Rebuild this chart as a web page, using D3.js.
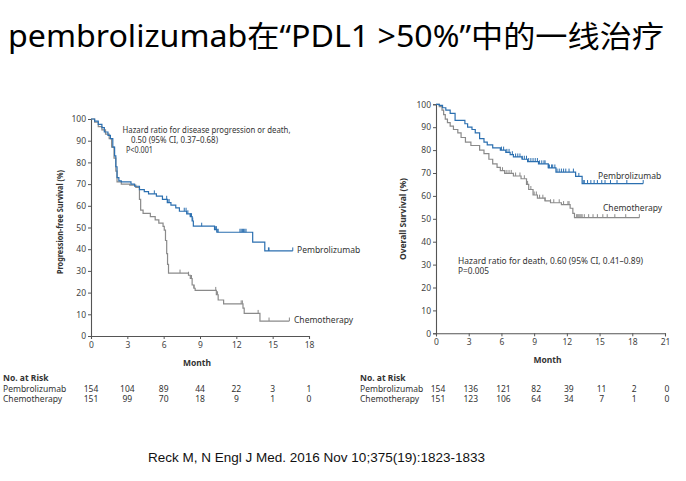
<!DOCTYPE html>
<html><head><meta charset="utf-8">
<script src="https://cdn.jsdelivr.net/npm/d3@7"></script>
<style>body{margin:0;background:#fff}svg{display:block}</style>
</head><body>
<svg id="c" width="686" height="481"></svg>
<script>
// ---------------- DATA ----------------
const titleText = "pembrolizumab在“PDL1 >50%”中的一线治疗";
const citation = "Reck M, N Engl J Med. 2016 Nov 10;375(19):1823-1833";
const seriesNames = ["Pembrolizumab", "Chemotherapy"];

// PFS (left) step data: [month, percent]
const pfsPembro = [[0,100],[0.3,99],[0.6,97.5],[0.9,96],[1.1,94],[1.4,92.5],[1.6,91],[1.8,87],[1.95,83],[2.05,78],[2.15,73],[2.3,71.5],[2.5,71],[3.3,70],[3.6,69],[4.0,67.5],[4.4,66.5],[4.75,65.5],[5.4,64.5],[5.9,63],[6.3,61.5],[6.6,60.3],[7.0,59],[7.3,57.5],[7.9,56.3],[8.2,55],[8.35,53],[8.45,50.6],[10.2,49],[10.4,47.8],[13.35,43.3],[14.35,39.2],[16.66,39.2]];
const pfsChemo = [[0,100],[0.3,98.5],[0.6,96.5],[0.9,95],[1.2,93],[1.5,91],[1.7,87],[1.9,82],[2.05,76],[2.15,71],[2.5,70],[3.2,69.5],[3.7,68.5],[4.0,63],[4.1,58],[4.3,56.5],[4.9,55],[5.3,53.5],[5.6,52],[5.95,50.5],[6.05,48.8],[6.15,44],[6.25,38],[6.32,33],[6.4,29],[8.05,28],[8.2,26.5],[8.35,23.5],[8.5,22],[8.6,21],[10.35,19],[10.5,16.6],[10.95,14.8],[12.55,12.8],[12.65,10.4],[13.95,6.9],[16.38,6.9]];
const pfsPembroCensor = [5.23,6.25,6.35,6.45,7.7,7.85,8.0,8.2,8.3,8.4,9.14,10.3,10.35,10.4,10.5,12.3,12.4,12.5,12.6,12.7,12.8,14.65,14.7,16.66];
const pfsChemoCensor = [7.35,8.05,8.3,8.5,10.3,10.45,12.4,12.5,13.8,14.7,16.38];

// OS (right) step data
const osPembro = [[0,100],[0.3,99.5],[0.6,98.5],[0.9,97.5],[1.3,96],[1.75,93],[2.65,91.5],[2.9,90],[3.3,89],[3.6,87.5],[4.0,85],[4.4,83.5],[4.7,82.3],[5.2,81],[5.9,80],[6.4,79],[6.8,78],[7.1,77],[7.9,76],[8.4,75],[9.4,74],[10.3,72.2],[11.0,70.4],[12.8,68.5],[13.4,65.4],[19.0,65.4]];
const osChemo = [[0,100],[0.3,99],[0.55,97.5],[0.7,95.5],[0.85,93.5],[1.05,92],[1.3,90.5],[1.6,89],[2.0,87.5],[2.3,85.5],[2.7,83.5],[3.2,82],[4.0,80],[4.4,78.5],[4.85,76],[5.2,74],[5.6,72.5],[5.9,71],[6.3,69.8],[7.1,68.7],[7.8,67.5],[8.3,65],[8.5,62.8],[8.9,60.4],[9.3,59],[10.0,57.8],[10.5,57],[11.5,56.2],[12.3,54.6],[12.55,52.4],[12.7,50.5],[18.65,50.5]];
const osPembroCensor = [6.0,6.2,6.5,6.7,7.0,7.3,7.5,7.7,7.9,8.1,8.3,8.5,8.7,8.9,9.1,9.3,9.5,9.7,9.9,10.0,10.3,10.4,10.6,10.7,10.9,11.1,11.3,11.5,11.7,11.9,12.2,12.6,12.8,13.1,13.5,13.6,13.9,14.2,14.5,14.8,15.2,15.5,16.0,16.6,17.5,19.0];
const osChemoCensor = [6.1,6.3,6.5,6.7,6.9,7.3,7.7,8.1,8.4,8.7,9.0,9.2,9.5,9.8,10.0,10.5,10.8,11.3,11.7,12.1,12.2,12.9,13.0,13.1,13.2,13.3,13.4,13.6,14.0,14.4,14.8,15.3,15.7,16.4,17.4,18.65];

const pfsXTicks = [0,3,6,9,12,15,18];
const osXTicks = [0,3,6,9,12,15,18,21];
const yTicks = [0,10,20,30,40,50,60,70,80,90,100];
const pfsRiskPembro = [154,104,89,44,22,3,1];
const pfsRiskChemo = [151,99,70,18,9,1,0];
const osRiskPembro = [154,136,121,82,39,11,2,0];
const osRiskChemo = [151,123,106,64,34,7,1,0];

// ---------------- DRAW ----------------
const svg = d3.select("#c");
const BLUE = "#2b6fb0", GRAY = "#8a8a8a", AX = "#555", TXT = "#333";
const F = "'Noto Sans', 'Open Sans', sans-serif";

svg.append("text").attr("x", 8).attr("y", 47)
  .attr("font-family", "'Noto Sans', 'Noto Sans CJK SC', sans-serif")
  .attr("font-size", 30).attr("fill", "#000")
  .attr("textLength", 656).attr("lengthAdjust", "spacingAndGlyphs")
  .text(titleText);

svg.append("text").attr("x", 148).attr("y", 462)
  .attr("font-family", "'Liberation Sans', Arial, sans-serif")
  .attr("font-size", 13.5).attr("fill", "#111")
  .attr("textLength", 337).attr("lengthAdjust", "spacingAndGlyphs")
  .text(citation);

function km(cfg) {
  const x = d3.scaleLinear().domain([0, cfg.xmax]).range(cfg.xr);
  const y = d3.scaleLinear().domain([0, 100]).range(cfg.yr);
  const g = svg.append("g");

  const ya = g.append("g").attr("transform", `translate(${cfg.xr[0]},0)`)
    .call(d3.axisLeft(y).tickValues(yTicks).tickSize(3).tickPadding(2));
  const xa = g.append("g").attr("transform", `translate(0,${cfg.yr[0]})`)
    .call(d3.axisBottom(x).tickValues(cfg.xticks).tickSize(3).tickPadding(3));
  [ya, xa].forEach(a => {
    a.select(".domain").attr("stroke", AX).attr("stroke-width", 1.1);
    a.selectAll(".tick line").attr("stroke", AX);
    a.selectAll("text").attr("font-family", F).attr("font-size", 8.5).attr("fill", "#444");
  });

  const line = d3.line().x(d => x(d[0])).y(d => y(d[1])).curve(d3.curveStepAfter);
  function stepVal(data, t) {
    let v = data[0][1];
    for (const d of data) { if (d[0] <= t) v = d[1]; else break; }
    return v;
  }
  cfg.series.forEach(s => {
    g.append("path").datum(s.data).attr("d", line)
      .attr("fill", "none").attr("stroke", s.color).attr("stroke-width", 1.2);
    g.selectAll(null).data(s.censor).enter().append("line")
      .attr("x1", d => x(d)).attr("x2", d => x(d))
      .attr("y1", d => y(stepVal(s.data, d)))
      .attr("y2", d => y(stepVal(s.data, d)) - 3.5)
      .attr("stroke", s.color).attr("stroke-width", 1);
    g.append("text").attr("x", cfg.labelPos[s.name][0]).attr("y", cfg.labelPos[s.name][1])
      .attr("font-family", F).attr("font-size", 8.5).attr("fill", TXT).text(s.name);
  });

  g.append("text").attr("x", (cfg.xr[0] + cfg.xr[1]) / 2 - 3).attr("y", cfg.yr[0] + 30)
    .attr("text-anchor", "middle").attr("font-family", F).attr("font-weight", "bold")
    .attr("font-size", 8.5).attr("fill", TXT).text("Month");
  g.append("text").attr("transform", `translate(${cfg.ylabX},${cfg.ylabY}) rotate(-90)`)
    .attr("text-anchor", "middle").attr("font-family", F).attr("font-weight", "bold")
    .attr("font-size", 8).attr("fill", TXT)
    .attr("textLength", cfg.ylabLen).attr("lengthAdjust", "spacingAndGlyphs")
    .text(cfg.ylab);

  cfg.notes.forEach(n => {
    g.append("text").attr("x", n[0]).attr("y", n[1]).attr("font-family", F)
      .attr("font-size", 8).attr("fill", TXT)
      .attr("textLength", n[3]).attr("lengthAdjust", "spacingAndGlyphs").text(n[2]);
  });

  // risk table
  g.append("text").attr("x", cfg.tableX).attr("y", 381).attr("font-family", F)
    .attr("font-weight", "bold").attr("font-size", 8.5).attr("fill", TXT).text("No. at Risk");
  cfg.risk.forEach((r, i) => {
    const yy = 392 + i * 9.5;
    g.append("text").attr("x", cfg.tableX).attr("y", yy).attr("font-family", F)
      .attr("font-size", 8.5).attr("fill", TXT).text(r.name);
    g.selectAll(null).data(r.vals).enter().append("text")
      .attr("x", (d, j) => x(cfg.xticks[j]) + cfg.riskDx)
      .attr("y", yy).attr("text-anchor", "middle").attr("font-family", F)
      .attr("font-size", 8.5).attr("fill", TXT).text(d => d);
  });
}

km({
  xmax: 18, xr: [91, 309], yr: [336, 119], xticks: pfsXTicks,
  series: [
    {name: seriesNames[1], data: pfsChemo, censor: pfsChemoCensor, color: GRAY},
    {name: seriesNames[0], data: pfsPembro, censor: pfsPembroCensor, color: BLUE}
  ],
  labelPos: {"Pembrolizumab": [297, 253], "Chemotherapy": [294, 323]},
  ylab: "Progression-free Survival (%)", ylabX: 63, ylabY: 222, ylabLen: 104,
  notes: [[122.5, 133, "Hazard ratio for disease progression or death,", 168],
          [131, 143, "0.50 (95% CI, 0.37–0.68)", 87],
          [126, 153, "P<0.001", 27]],
  tableX: 3, riskDx: 0,
  risk: [{name: seriesNames[0], vals: pfsRiskPembro}, {name: seriesNames[1], vals: pfsRiskChemo}]
});

km({
  xmax: 21, xr: [436, 665], yr: [333.3, 104.3], xticks: osXTicks,
  series: [
    {name: seriesNames[1], data: osChemo, censor: osChemoCensor, color: GRAY},
    {name: seriesNames[0], data: osPembro, censor: osPembroCensor, color: BLUE}
  ],
  labelPos: {"Pembrolizumab": [598, 179], "Chemotherapy": [603, 211]},
  ylab: "Overall Survival (%)", ylabX: 406, ylabY: 219, ylabLen: 82,
  notes: [[458, 263.5, "Hazard ratio for death, 0.60 (95% CI, 0.41–0.89)", 185],
          [458, 274, "P=0.005", 31]],
  tableX: 360, riskDx: 2,
  risk: [{name: seriesNames[0], vals: osRiskPembro}, {name: seriesNames[1], vals: osRiskChemo}]
});
</script>
</body></html>
